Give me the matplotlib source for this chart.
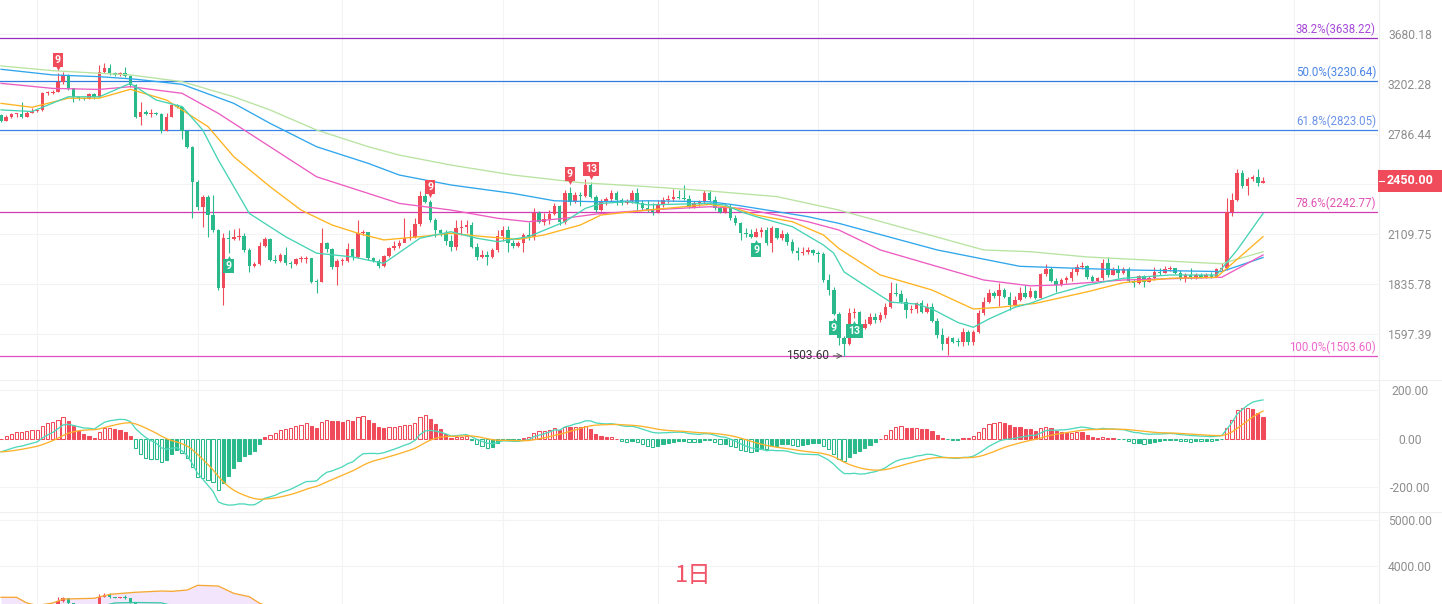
import numpy as np
import matplotlib
matplotlib.use("Agg")
import matplotlib.pyplot as plt
import matplotlib.transforms as mtransforms
from matplotlib.patches import Rectangle
from matplotlib.lines import Line2D

plt.rcParams["font.family"] = ["Roboto", "Noto Sans CJK SC", "DejaVu Sans"]

W, H = 1442, 604

# daily candles, open = previous close
first_open = 2940
close = [2894, 2926, 2946, 2948, 2926, 2959, 2974, 2982, 3123, 3128,
         3137, 3225, 3287, 3166, 3088, 3079, 3077, 3117, 3088, 3312,
         3349, 3302, 3287, 3308, 3277, 3196, 2926, 2965, 2946, 2959,
         2948, 2811, 2926, 3023, 3004, 2811, 2692, 2443, 2278, 2342,
         2226, 2135, 1816, 2087, 2083, 2096, 2102, 2020, 1934, 1941,
         2042, 2083, 1965, 1961, 1992, 1946, 1941, 1968, 1970, 1974,
         1850, 1847, 2058, 2024, 1925, 1959, 1961, 2024, 1980, 2119,
         2122, 1974, 1961, 1932, 1986, 2029, 2042, 2061, 2087, 2092,
         2171, 2349, 2310, 2195, 2135, 2116, 2073, 2037, 2145, 2155,
         2165, 2038, 1980, 1992, 1980, 2020, 2100, 2135, 2058, 2042,
         2058, 2106, 2092, 2236, 2185, 2201, 2232, 2282, 2185, 2364,
         2310, 2353, 2350, 2420, 2342, 2257, 2310, 2326, 2364, 2321,
         2299, 2316, 2368, 2299, 2270, 2257, 2245, 2289, 2321, 2327,
         2342, 2336, 2330, 2278, 2299, 2305, 2364, 2321, 2268, 2247,
         2278, 2209, 2175, 2116, 2112, 2096, 2122, 2135, 2058, 2145,
         2090, 2110, 2067, 2015, 2001, 2011, 2020, 2001, 1996, 1858,
         1807, 1690, 1580, 1557, 1695, 1700, 1626, 1646, 1678, 1662,
         1686, 1725, 1793, 1786, 1749, 1709, 1713, 1741, 1701, 1725,
         1659, 1594, 1557, 1579, 1564, 1563, 1609, 1564, 1609, 1697,
         1749, 1793, 1777, 1807, 1773, 1733, 1757, 1793, 1773, 1804,
         1768, 1890, 1914, 1855, 1832, 1858, 1867, 1901, 1925, 1932,
         1872, 1855, 1867, 1950, 1884, 1914, 1893, 1914, 1855, 1841,
         1879, 1850, 1867, 1901, 1896, 1914, 1919, 1893, 1867, 1884,
         1872, 1884, 1875, 1884, 1875, 1914, 1919, 2246, 2321, 2504,
         2414, 2459, 2473, 2436, 2450]
high = [2948, 2940, 2957, 2957, 3048, 2974, 2999, 2991, 3134, 3139,
        3152, 3302, 3314, 3296, 3160, 3099, 3090, 3125, 3125, 3379,
        3395, 3389, 3314, 3314, 3363, 3287, 3205, 3048, 2982, 2991,
        2965, 2957, 2957, 3031, 3031, 3015, 2820, 2697, 2454, 2353,
        2353, 2353, 2141, 2119, 2135, 2141, 2147, 2117, 2031, 1954,
        2065, 2094, 2089, 1992, 2003, 2037, 1959, 1975, 1986, 1986,
        1965, 1863, 2145, 2065, 2031, 1970, 1975, 2059, 2026, 2195,
        2135, 2077, 1981, 1970, 1992, 2037, 2071, 2077, 2207, 2135,
        2207, 2382, 2380, 2321, 2207, 2141, 2135, 2106, 2195, 2195,
        2195, 2183, 2059, 2020, 2015, 2031, 2135, 2159, 2159, 2077,
        2071, 2117, 2183, 2270, 2251, 2238, 2257, 2301, 2289, 2388,
        2406, 2373, 2373, 2459, 2440, 2353, 2327, 2340, 2388, 2380,
        2334, 2327, 2388, 2400, 2321, 2321, 2301, 2321, 2340, 2353,
        2394, 2388, 2420, 2353, 2314, 2321, 2388, 2388, 2347, 2282,
        2295, 2295, 2226, 2183, 2147, 2141, 2147, 2153, 2153, 2159,
        2123, 2135, 2123, 2083, 2037, 2037, 2037, 2026, 2015, 2009,
        1890, 1822, 1700, 1590, 1718, 1718, 1705, 1665, 1695, 1695,
        1700, 1742, 1846, 1843, 1807, 1767, 1733, 1747, 1757, 1742,
        1742, 1671, 1626, 1590, 1585, 1581, 1626, 1617, 1617, 1709,
        1772, 1811, 1802, 1843, 1817, 1797, 1777, 1824, 1832, 1822,
        1807, 1895, 1941, 1924, 1868, 1868, 1879, 1921, 1943, 1955,
        1937, 1884, 1874, 1968, 1979, 1927, 1937, 1927, 1927, 1863,
        1884, 1884, 1879, 1925, 1921, 1932, 1932, 1921, 1911, 1895,
        1919, 1895, 1895, 1895, 1900, 1921, 1947, 2332, 2364, 2530,
        2523, 2475, 2489, 2527, 2473]
low = [2883, 2891, 2916, 2924, 2916, 2924, 2957, 2965, 2974, 3108,
       3117, 3134, 3205, 3152, 3051, 3065, 3065, 3073, 3073, 3090,
       3305, 3287, 3277, 3277, 3268, 3178, 2916, 2860, 2940, 2924,
       2940, 2796, 2811, 2924, 2998, 2750, 2682, 2207, 2257, 2155,
       2096, 2123, 1807, 1733, 2003, 2077, 2077, 2009, 1901, 1927,
       1937, 2037, 1959, 1948, 1954, 1937, 1921, 1937, 1954, 1948,
       1843, 1793, 1848, 2009, 1916, 1832, 1937, 1954, 1965, 1975,
       2106, 1965, 1954, 1921, 1927, 1981, 2020, 2031, 2065, 2077,
       2089, 2159, 2301, 2183, 2094, 2100, 2048, 2015, 2020, 2106,
       2117, 2031, 1965, 1975, 1937, 1975, 2009, 2071, 2009, 2031,
       2037, 2009, 2077, 2077, 2177, 2165, 2171, 2226, 2165, 2171,
       2289, 2301, 2284, 2340, 2334, 2245, 2251, 2289, 2308, 2289,
       2289, 2295, 2301, 2257, 2257, 2245, 2226, 2238, 2276, 2301,
       2314, 2327, 2320, 2270, 2270, 2282, 2301, 2308, 2257, 2238,
       2238, 2195, 2165, 2077, 2094, 2089, 2094, 2094, 2048, 2009,
       2083, 2077, 2048, 2003, 1965, 1992, 1998, 1992, 1954, 1848,
       1782, 1685, 1550, 1503.6, 1550, 1671, 1610, 1620, 1640, 1648,
       1655, 1671, 1718, 1777, 1742, 1671, 1695, 1695, 1695, 1695,
       1653, 1581, 1529, 1508, 1559, 1546, 1546, 1550, 1550, 1603,
       1686, 1742, 1767, 1728, 1767, 1709, 1728, 1752, 1767, 1767,
       1762, 1767, 1879, 1848, 1798, 1827, 1843, 1853, 1884, 1916,
       1863, 1848, 1853, 1858, 1874, 1884, 1868, 1890, 1848, 1821,
       1838, 1822, 1848, 1858, 1884, 1895, 1905, 1890, 1858, 1850,
       1863, 1863, 1868, 1868, 1868, 1872, 1905, 1911, 2220, 2314,
       2401, 2353, 2446, 2410, 2433]

# moving averages, read at sample candles
teal_idx = [0, 6, 13, 19, 25, 30, 35, 39, 42, 48, 55, 61, 68, 74, 81, 87, 92, 96, 102, 109,
            113, 116, 121, 125, 137, 140, 143, 146, 153, 159, 161, 163, 167, 172, 177, 180,
            185, 188, 191, 196, 199, 204, 210, 217, 226, 235, 239, 244]
teal_ma = [2982, 2969, 3093, 3093, 3211, 3065, 3010, 2820, 2595, 2236, 2096, 2002, 1981, 1946,
           2087, 2125, 2087, 2067, 2096, 2185, 2268, 2299, 2310, 2290, 2299, 2289, 2247, 2216,
           2155, 2048, 2002, 1900, 1830, 1747, 1738, 1714, 1651, 1629, 1667, 1722, 1741, 1789,
           1832, 1867, 1884, 1884, 2020, 2236]
orange_idx = [0, 6, 13, 19, 25, 32, 40, 45, 52, 58, 64, 69, 74, 81, 87, 92, 100, 105, 112, 116,
              125, 137, 142, 146, 153, 159, 162, 170, 180, 188, 193, 200, 210, 217, 226, 235, 244]
orange_ma = [3037, 3004, 3081, 3081, 3158, 3065, 2847, 2618, 2409, 2257, 2165, 2116, 2077, 2096,
             2116, 2100, 2080, 2106, 2165, 2226, 2257, 2293, 2268, 2226, 2185, 2106, 2028, 1884,
             1807, 1714, 1722, 1741, 1798, 1844, 1867, 1872, 2096]
pink_idx = [0, 10, 19, 25, 35, 42, 52, 61, 71, 77, 87, 96, 102, 109, 115, 125, 137, 143, 150,
            156, 162, 170, 180, 190, 199, 204, 217, 236, 244]
pink_ma = [3211, 3166, 3157, 3181, 3123, 2954, 2692, 2476, 2364, 2299, 2257, 2206, 2185, 2206,
           2232, 2257, 2278, 2268, 2226, 2185, 2135, 2020, 1937, 1858, 1828, 1832, 1858, 1872, 1992]
blue_idx = [0, 10, 19, 26, 35, 45, 52, 61, 71, 77, 87, 99, 107, 115, 125, 137, 142, 150, 156,
            162, 181, 197, 217, 236, 244]
blue_ma = [3339, 3287, 3271, 3248, 3202, 3037, 2873, 2692, 2570, 2488, 2420, 2364, 2316, 2310,
           2316, 2310, 2289, 2247, 2216, 2175, 2020, 1930, 1911, 1902, 1978]
green_idx = [0, 10, 19, 25, 35, 45, 52, 61, 71, 77, 87, 99, 112, 125, 137, 150, 162, 190, 199,
             210, 223, 236, 244]
green_ma = [3370, 3326, 3302, 3287, 3226, 3093, 2982, 2820, 2692, 2630, 2558, 2488, 2436, 2409,
            2380, 2343, 2257, 2020, 2010, 1981, 1962, 1944, 2010]

# fibonacci retracement
fib_names = ["38.2%", "50.0%", "61.8%", "78.6%", "100.0%"]
fib_levels = [3638.22, 3230.64, 2823.05, 2242.77, 1503.60]

price_ticks = [1597.39, 1835.78, 2109.75, 2424.63, 2786.44, 3202.28, 3680.18]
macd_ticks = [200, 0, -200]
boll_ticks = [5000, 4000]
last_price = 2450.00
low_idx = 163

# macd starting values read at the left edge
dif_start = -54
dea_start = -54

# TD sequential counts
td_up = [(11, "9"), (83, "9"), (110, "9"), (114, "13")]
td_down = [(44, "9"), (146, "9"), (161, "9"), (165, "13")]

# boll panel (only top part visible)
boll_idx = [0, 3, 5, 7, 10, 12, 18, 21, 26, 31, 33, 36, 38, 42, 45, 48, 50, 53]
boll_up = [3301, 3301, 3175, 3120, 3175, 3263, 3279, 3367, 3412, 3440, 3433, 3462, 3566,
           3551, 3389, 3314, 3168, 3050]
boll_mid_idx = [20, 22, 26, 31, 33]
boll_mid = [3120, 3176, 3186, 3178, 3120]

RED = "#f04b5b"
GREEN = "#29b98a"
GRID = "#f3f3f3"
TICK = "#8e8e8e"

c = np.array(close, float)
o = np.r_[first_open, c[:-1]]
hi = np.array(high, float)
lo = np.array(low, float)
x = np.arange(len(c))
n = len(c)

# MACD (12, 26, 9)
ema12 = np.empty(n)
ema26 = np.empty(n)
dea = np.empty(n)
ema12[0] = c[0]
ema26[0] = c[0] - dif_start
for i in range(1, n):
    ema12[i] = ema12[i - 1] + 2 / 13 * (c[i] - ema12[i - 1])
    ema26[i] = ema26[i - 1] + 2 / 27 * (c[i] - ema26[i - 1])
dif = ema12 - ema26
dea[0] = dea_start
for i in range(1, n):
    dea[i] = dea[i - 1] + 2 / 10 * (dif[i] - dea[i - 1])
hist = 2 * (dif - dea)

fig = plt.figure(figsize=(W / 100, H / 100), dpi=100)
fig.patch.set_facecolor("white")
pw = 1378 / W
ax = fig.add_axes([0, 1 - 380 / H, pw, 380 / H])
ax2 = fig.add_axes([0, 1 - 512 / H, pw, 132 / H])
ax3 = fig.add_axes([0, 0, pw, 92 / H])

spacing = 1262 / (n - 1)
xlim = (-0.2, -0.2 + 1378 / spacing)
vgrid = [7, 38, 66, 97, 127, 158, 188, 219, 250]

for a in (ax, ax2, ax3):
    a.set_xlim(*xlim)
    for s in a.spines.values():
        s.set_visible(False)
    a.set_xticks([])
    a.yaxis.tick_right()
    a.tick_params(axis="y", length=0, pad=23, labelsize=8.7, labelcolor=TICK)
    for v in vgrid:
        a.axvline(v, color=GRID, lw=0.8, zorder=0)


def candles(a, min_frac):
    up = c >= o
    cols = np.where(up, RED, GREEN)
    a.vlines(x, lo, hi, colors=cols, lw=0.8, zorder=3)
    b0 = np.minimum(o, c)
    b1 = np.maximum(np.maximum(o, c), b0 * (1 + min_frac))
    a.bar(x, b1 - b0, bottom=b0, width=0.68, color=cols, linewidth=0, zorder=4)


# main price panel
ax.set_yscale("log")
ax.set_ylim(1406.8, 4048.6)
ax.set_yticks(price_ticks)
# the label under the last-price badge is hidden
ax.set_yticklabels(["" if abs(t - last_price) < 60 else f"{t:.2f}" for t in price_ticks])
ax.yaxis.set_minor_locator(matplotlib.ticker.NullLocator())
for t in price_ticks:
    ax.axhline(t, color=GRID, lw=0.8, zorder=0)

candles(ax, 0.0025)

for idx, vals, col in [(green_idx, green_ma, "#b8e3a1"), (blue_idx, blue_ma, "#2fa6ec"),
                       (pink_idx, pink_ma, "#ec5cc2"), (orange_idx, orange_ma, "#ffb31f"),
                       (teal_idx, teal_ma, "#46d3b5")]:
    ax.plot(idx, vals, color=col, lw=0.95, zorder=5, solid_joinstyle="round")

fib_line_cols = ["#9b2cc0", "#2f7de1", "#3a82e8", "#cf3cb3", "#e14fc6"]
fib_text_cols = ["#a648d8", "#4b86e6", "#6b93ea", "#e055b4", "#ee68cc"]
btrans = mtransforms.blended_transform_factory(ax.transAxes, ax.transData)
for name, lvl, lc, tc in zip(fib_names, fib_levels, fib_line_cols, fib_text_cols):
    ax.axhline(lvl, color=lc, lw=0.9, zorder=2.5)
    ax.annotate(f"{name}({lvl:.2f})", xy=(1, lvl), xycoords=btrans, xytext=(-2, 2),
                textcoords="offset pixels", ha="right", va="bottom", color=tc, fontsize=8.3)

ax.annotate(f"{fib_levels[-1]:.2f}", xy=(low_idx, lo[low_idx]), xytext=(-15, 1),
            textcoords="offset pixels", ha="right", va="center", color="#333333", fontsize=8.6,
            arrowprops=dict(arrowstyle="->", color="#555555", lw=0.7, shrinkA=1, shrinkB=1),
            zorder=7)

for i, t in td_up:
    ax.annotate(t, xy=(i, hi[i]), xytext=(0, 13), textcoords="offset pixels", ha="center",
                va="center", color="white", fontsize=7.6, fontweight="bold", zorder=8,
                bbox=dict(boxstyle="square,pad=0.2", fc=RED, ec="none"))
    ax.plot([i], [hi[i]], marker="v", ms=3.5, color=RED, mec="none", zorder=8,
            transform=ax.transData + mtransforms.ScaledTranslation(0, 0.05, fig.dpi_scale_trans))
for i, t in td_down:
    ax.annotate(t, xy=(i, lo[i]), xytext=(0, -13), textcoords="offset pixels", ha="center",
                va="center", color="white", fontsize=7.6, fontweight="bold", zorder=8,
                bbox=dict(boxstyle="square,pad=0.2", fc=GREEN, ec="none"))
    ax.plot([i], [lo[i]], marker="^", ms=3.5, color=GREEN, mec="none", zorder=8,
            transform=ax.transData + mtransforms.ScaledTranslation(0, -0.05, fig.dpi_scale_trans))

# MACD panel
ax2.set_ylim(-302, 242)
ax2.set_yticks(macd_ticks)
ax2.set_yticklabels([f"{t:.2f}" for t in macd_ticks])
for t in macd_ticks:
    ax2.axhline(t, color=GRID, lw=0.8, zorder=0)
grow = np.r_[True, np.abs(hist[1:]) > np.abs(hist[:-1])]
hcol = np.where(hist >= 0, RED, GREEN)
face = [("white" if g else col) for g, col in zip(grow, hcol)]
ax2.bar(x, hist, width=0.62, color=face, edgecolor=hcol, linewidth=0.75, zorder=2)
ax2.plot(x, dif, color="#4fd8bb", lw=0.95, zorder=3)
ax2.plot(x, dea, color="#fdb22c", lw=0.95, zorder=3)

# BOLL panel
ax3.set_ylim(3153, 5188)
ax3.set_yticks(boll_ticks)
ax3.set_yticklabels([f"{t:.2f}" for t in boll_ticks])
for t in boll_ticks:
    ax3.axhline(t, color=GRID, lw=0.8, zorder=0)
ax3.fill_between(boll_idx, boll_up, 2500, color="#f3e6fc", lw=0, zorder=1)
ax3.plot(boll_idx, boll_up, color="#f7a733", lw=0.95, zorder=5)
ax3.plot(boll_mid_idx, boll_mid, color="#3cc8a8", lw=0.95, zorder=5)
candles(ax3, 0.002)

for a in (ax, ax2, ax3):
    for lab in a.get_yticklabels():
        lab.set_horizontalalignment("center")

# separators
ident = mtransforms.IdentityTransform()
fig.add_artist(Line2D([1378.5, 1378.5], [0, H], transform=ident, color="#ececec", lw=0.8))
for yy in (380, 512):
    fig.add_artist(Line2D([0, W], [H - yy, H - yy], transform=ident, color="#efefef", lw=0.8))

# last price badge
yp = ax.transData.transform((0, last_price))[1]
fig.add_artist(Rectangle((1378, yp - 11), 64, 22, transform=ident, fc=RED, ec="none", zorder=10))
fig.add_artist(Line2D([1379, 1384], [yp, yp], transform=ident, color="white", lw=0.8, zorder=11))
fig.text(1410, yp, f"{last_price:.2f}", transform=ident, ha="center", va="center",
         color="white", fontsize=9, fontweight="bold", zorder=11)

fig.text(693 / W, 1 - 575 / H, "1日", ha="center", va="center", fontsize=17,
         color="#f2566a", family=["Noto Sans CJK SC", "DejaVu Sans"])

fig.savefig("out.png", dpi=100)
